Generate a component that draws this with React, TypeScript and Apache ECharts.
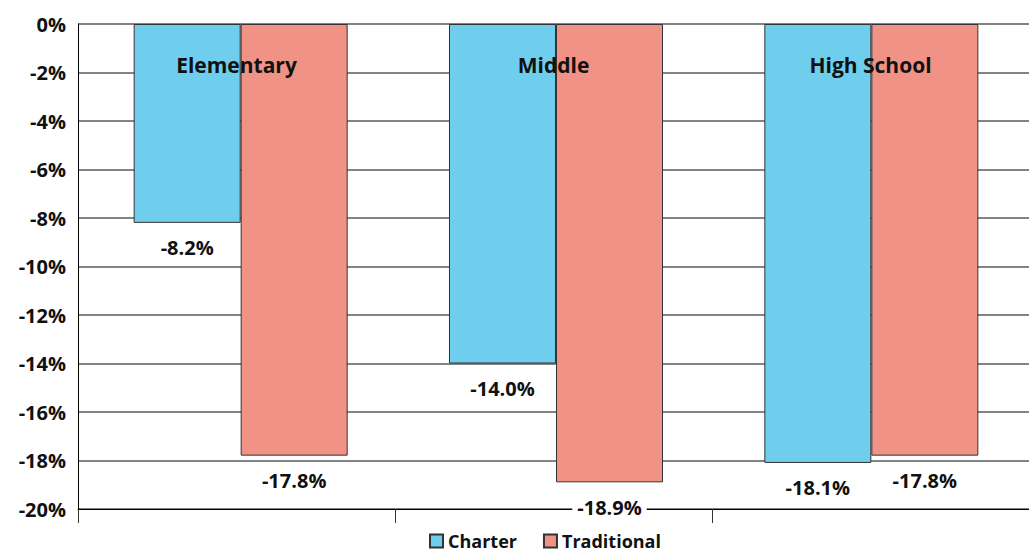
import React, { useEffect, useRef } from "react";
import * as echarts from "echarts";

const categories = ["Elementary", "Middle", "High School"];
const charter = [-8.2, -14.0, -18.1];
const traditional = [-17.8, -18.9, -17.8];
const seriesNames = ["Charter", "Traditional"];

const FONT = "'Open Sans', sans-serif";

export default function App() {
  const ref = useRef<HTMLDivElement>(null);
  useEffect(() => {
    if (!ref.current) return;
    const chart = echarts.init(ref.current, undefined, { renderer: "svg" });
    const labelCfg = {
      show: true,
      position: "bottom" as const,
      distance: 15,
      formatter: (p: any) => p.value.toFixed(1) + "%",
      color: "#111",
      fontFamily: FONT,
      fontWeight: "bold" as const,
      fontSize: 20,
      backgroundColor: "#fff",
      padding: [0, 5],
    };
    chart.setOption({
      animation: false,
      textStyle: { fontFamily: FONT },
      grid: [
        { left: 78, top: 24, width: 957, height: 485 },
        { left: 83, top: 24, width: 951, height: 485 },
      ],
      legend: {
        top: 527,
        left: 424,
        icon: "rect",
        itemWidth: 13,
        itemHeight: 13,
        itemGap: 26,
        textStyle: { fontFamily: FONT, fontWeight: "bold", fontSize: 18, color: "#111" },
        data: seriesNames,
      },
      xAxis: [
        {
          type: "category",
          gridIndex: 0,
          data: categories,
          position: "bottom",
          axisLine: { show: true, onZero: false, lineStyle: { color: "#000", width: 1 } },
          axisTick: { show: true, length: 14, lineStyle: { color: "#333", width: 1 } },
          axisLabel: { show: false },
        },
        {
          type: "category",
          gridIndex: 0,
          data: categories,
          position: "top",
          z: 10,
          axisLine: { show: false },
          axisTick: { show: false },
          axisLabel: {
            show: true,
            inside: true,
            margin: 30,
            color: "#111",
            fontFamily: FONT,
            fontWeight: "bold",
            fontSize: 21,
          },
        },
        {
          type: "category",
          gridIndex: 1,
          data: categories,
          show: false,
        },
      ],
      yAxis: [
        {
          type: "value",
          gridIndex: 0,
          min: -20,
          max: 0,
          interval: 2,
          axisLine: { show: true, lineStyle: { color: "#000", width: 1 } },
          axisTick: { show: false },
          splitLine: { show: true, lineStyle: { color: "#5a5a5a", width: 1.5 } },
          axisLabel: {
            formatter: "{value}%",
            margin: 12,
            color: "#111",
            fontFamily: FONT,
            fontWeight: "bold",
            fontSize: 20,
          },
        },
        {
          type: "value",
          gridIndex: 1,
          min: -20,
          max: 0,
          interval: 2,
          show: false,
        },
      ],
      series: [
        {
          name: seriesNames[0],
          type: "bar",
          xAxisIndex: 2,
          yAxisIndex: 1,
          data: charter,
          barGap: "0%",
          barWidth: 107,
          itemStyle: { color: "#6fcdee", borderColor: "#333", borderWidth: 1 },
          label: labelCfg,
        },
        {
          name: seriesNames[1],
          type: "bar",
          xAxisIndex: 2,
          yAxisIndex: 1,
          data: traditional,
          barGap: "0%",
          barWidth: 107,
          itemStyle: { color: "#f09386", borderColor: "#333", borderWidth: 1 },
          label: labelCfg,
        },
      ],
    });
    return () => chart.dispose();
  }, []);
  return <div ref={ref} style={{ width: 1029, height: 556, position: "absolute", left: 0, top: 0 }} />;
}
